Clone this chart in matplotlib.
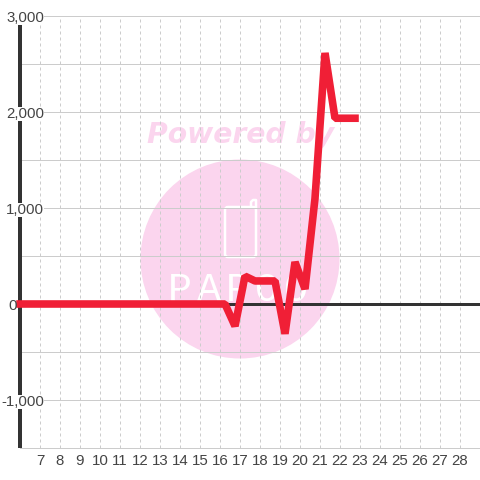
#!/usr/bin/env python3
"""Line chart with a watermark, 480x480."""

import matplotlib

matplotlib.use("Agg")
import matplotlib.pyplot as plt
from matplotlib.patches import Circle, FancyBboxPatch

COLOR_LINE = "#F01F36"
COLOR_AXIS = "#333333"
COLOR_GRID = "#CCCCCC"
COLOR_WM = "#FBD5EE"
COLOR_TEXT = "#444444"

x_values = [6, 16.25, 16.75, 17.25, 17.75, 18.25, 18.75, 19.25, 19.75, 20.25, 20.75, 21.25, 21.75, 22.25, 22.75]
y_values = [0, 0, -230, 290, 240, 240, 240, -310, 437, 156, 1100, 2615, 1935, 1935, 1935]
x_ticks = list(range(7, 29))
y_ticks = [-1000, 1000, 2000, 3000]
y_grid = [-1000, -500, 0, 500, 1000, 1500, 2000, 2500, 3000]
watermark_letters = ["P", "A", "P", "O", "O"]

px = 0.72  # points per pixel at dpi 100
plt.rcParams["font.family"] = ["Liberation Sans", "DejaVu Sans"]

fig = plt.figure(figsize=(4.8, 4.8), dpi=100)

# watermark goes underneath everything, placed in pixels
wm = fig.add_axes([0, 0, 1, 1], zorder=0)
wm.set_xlim(0, 480)
wm.set_ylim(480, 0)
wm.axis("off")
wm.add_patch(Circle((240, 259), 99.5, fc=COLOR_WM, ec="none"))
wm.text(241, 135, "Powered by", color=COLOR_WM, fontsize=20.3, fontweight="bold", style="italic",
        family="DejaVu Sans", ha="center", va="center")
wm.add_patch(FancyBboxPatch((225, 207), 31, 50, boxstyle="round,pad=0,rounding_size=3", fc="none", ec="white", lw=2.5 * px))
wm.plot([251, 251, 253, 256, 256], [207, 202, 200, 200, 207], color="white", lw=2.5 * px)
for i, letter in enumerate(watermark_letters):
    wm.text(180 + 29 * i, 290, letter, color="white", fontsize=29, family="Liberation Mono", ha="center", va="center")

ax = fig.add_axes([20 / 480, 32 / 480, 460 / 480, 432 / 480], zorder=1)
ax.patch.set_alpha(0)
ax.set_xlim(6, 29)
ax.set_ylim(-1500, 3000)

for s in ["top", "right", "left"]:
    ax.spines[s].set_visible(False)
ax.spines["bottom"].set_color(COLOR_GRID)
ax.spines["bottom"].set_linewidth(1 * px)

ax.set_yticks(y_grid)
ax.set_yticklabels(["" for _ in y_grid])
ax.set_xticks(x_ticks)
ax.tick_params(length=0, labelsize=10.8, labelcolor=COLOR_TEXT, pad=4.5)
ax.grid(axis="y", color=COLOR_GRID, lw=1 * px, zorder=1)
ax.grid(axis="x", color=COLOR_GRID, lw=1 * px, ls=(0, (3, 3)), zorder=1)

ax.axhline(0, color=COLOR_AXIS, lw=3 * px, zorder=3)
ax.plot([6.02, 6.02], [-1500, 2917], color=COLOR_AXIS, lw=4 * px, clip_on=False, solid_capstyle="butt", zorder=3)
ax.plot(x_values, y_values, color=COLOR_LINE, lw=7.6 * px, solid_joinstyle="bevel", solid_capstyle="projecting",
        clip_on=False, zorder=4)

# y labels sit on a white plate that breaks the axis and gridlines
for v in y_ticks:
    ax.text(7.2, v, f"{v:,}", ha="right", va="center_baseline", fontsize=10.8, color=COLOR_TEXT, clip_on=False,
            bbox=dict(fc="white", ec="none", pad=0), zorder=5)
ax.text(5.82, 0, "0", ha="right", va="center_baseline", fontsize=10.8, color=COLOR_TEXT, clip_on=False, zorder=5)

fig.savefig("out.png", dpi=100)
